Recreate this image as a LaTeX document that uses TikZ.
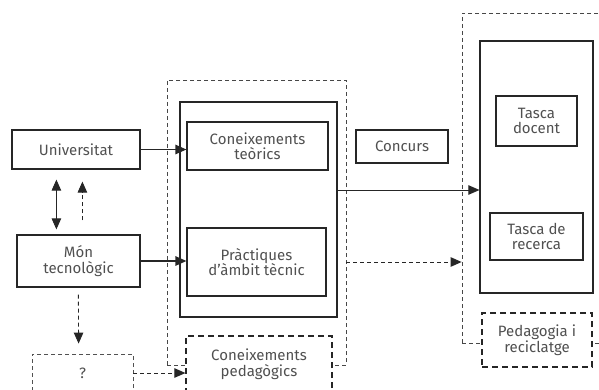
\documentclass[tikz,border=0pt]{standalone}
\usepackage{fontspec}
\setmainfont{Fira Sans}
\usepackage{tikz}
\usetikzlibrary{arrows.meta}

\definecolor{ink}{HTML}{262626}
\definecolor{txt}{HTML}{505050}

\tikzset{
  box/.style={draw=ink,line width=1.2pt,rectangle,align=center,text=txt,
    font=\fontsize{15}{15.5}\selectfont,inner sep=0pt},
  frame/.style={draw=ink!85,line width=0.8pt,dash pattern=on 4pt off 3pt,rectangle,inner sep=0pt},
  dbox/.style={box,dash pattern=on 6pt off 4pt,fill=white},
  qdash/.style={box,line width=0.8pt,draw=ink!80,dash pattern=on 4pt off 3pt,fill=white},
}

\begin{document}
\begin{tikzpicture}[x=1pt,y=-1pt,>={Triangle[length=11pt,width=9.5pt]}]

\useasboundingbox (0,0) rectangle (599,390);
\clip (0,0) rectangle (599,390);

% outer frames
\node[frame,minimum width=179pt,minimum height=285pt] (mframe) at (256.5,222.5) {};
\node[frame,minimum width=148pt,minimum height=330pt] (rframe) at (536,178) {};

% left side
\node[box,minimum width=128pt,minimum height=39pt] (uni) at (76,149.5) {Universitat};
\node[box,minimum width=123pt,minimum height=52pt] (mon) at (78.5,261) {Món\\tecnològic};
\node[qdash,minimum width=101pt,minimum height=38pt] (qbox) at (82.5,373) {?};

% middle
\node[box,minimum width=157pt,minimum height=215pt] (inbox) at (258.5,209.5) {};
\node[box,minimum width=141pt,minimum height=48pt] (teor) at (257.5,146) {Coneixements\\teòrics};
\node[box,minimum width=139pt,minimum height=68pt] (pract) at (256.5,262) {Pràctiques\\d’àmbit tècnic};
\node[dbox,minimum width=146pt,minimum height=56pt] (ped) at (259,364) {Coneixements\\pedagògics};
\node[box,minimum width=92pt,minimum height=33pt] (concurs) at (402,146.5) {Concurs};

% right
\node[box,minimum width=113pt,minimum height=252pt] (rbox) at (536.5,167) {};
\node[box,minimum width=81pt,minimum height=50pt] (docent) at (536.5,121) {Tasca\\docent};
\node[box,minimum width=93pt,minimum height=47pt] (recerca) at (536.5,236.5) {Tasca de\\recerca};
\node[dbox,minimum width=110pt,minimum height=54pt] (pedrec) at (537,340) {Pedagogia i\\reciclatge};

% connectors
\draw[->,ink,line width=1.2pt] (uni.east) -- (uni.east -| teor.west);
\draw[->,ink,line width=1.2pt] (mon.east) -- (mon.east -| pract.west);
\draw[<->,ink,line width=0.9pt] ([shift={(45pt,-10pt)}]uni.south west) -- ([shift={(40pt,5pt)}]mon.north west);
\draw[->,ink,line width=0.9pt,dash pattern=on 4pt off 3pt] ([shift={(66pt,14pt)}]mon.north west) -- ([shift={(71pt,-12pt)}]uni.south west);
\draw[->,ink,line width=0.9pt,dash pattern=on 4pt off 3pt] ([shift={(62pt,-7pt)}]mon.south west) -- ([shift={(47pt,10pt)}]qbox.north west);
\draw[->,ink,line width=0.9pt,dash pattern=on 4pt off 3pt] (qbox.east) -- (qbox.east -| ped.west);
\draw[->,ink,line width=0.9pt] ([yshift=19.5pt]inbox.east) -- ([yshift=19.5pt]inbox.east -| rbox.west);
\draw[->,ink,line width=0.9pt,dash pattern=on 4pt off 3pt] (pract.east -| mframe.east) -- (pract.east -| rframe.west);

\end{tikzpicture}
\end{document}
